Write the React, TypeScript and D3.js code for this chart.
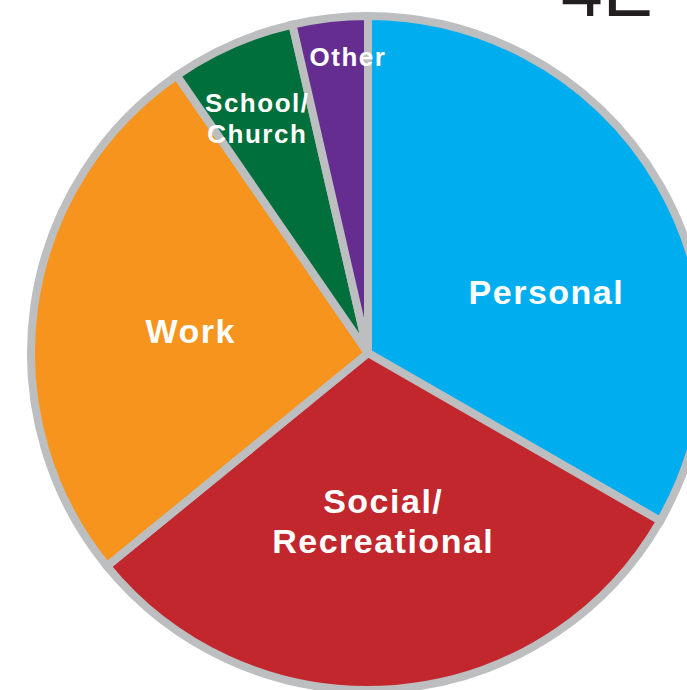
import React, { useEffect, useRef } from "react";
import * as d3 from "d3";

const categories = ["Personal", "Social/Recreational", "Work", "School/Church", "Other"];
const shares = [33.3, 30.8, 26.3, 6.0, 3.6];
const labelLines = [["Personal"], ["Social/", "Recreational"], ["Work"], ["School/", "Church"], ["Other"]];
const colors = ["#00aeef", "#c1272d", "#f7941d", "#006f3c", "#662d91"];

const width = 687;
const height = 690;

const App = () => {
  const ref = useRef<SVGSVGElement>(null);

  useEffect(() => {
    const svg = d3.select(ref.current);
    svg.selectAll("*").remove();

    const cx = 368;
    const cy = 353;
    const r = 337;

    const data = categories.map((c, i) => ({ name: c, value: shares[i], lines: labelLines[i], color: colors[i] }));
    const pie = d3.pie<any>().sort(null).value((d) => d.value);
    const arcs = pie(data);
    const arc = d3.arc<any>().innerRadius(0).outerRadius(r);

    const g = svg.append("g").attr("transform", `translate(${cx},${cy})`);

    g.selectAll("path")
      .data(arcs)
      .join("path")
      .attr("d", arc)
      .attr("fill", (d) => d.data.color)
      .attr("stroke", "#bcbec0")
      .attr("stroke-width", 8)
      .attr("stroke-linejoin", "miter");

    // label placement: radius fraction and angle nudge (degrees) from slice middle
    const labelR = [0.56, 0.5, 0.53, 0.77, 0.88];
    const labelShift = [11, -0.5, -1, -1.5, 2.6];
    const fs = [34, 34, 34, 26, 26];
    g.selectAll("text.lbl")
      .data(arcs)
      .join("text")
      .attr("class", "lbl")
      .attr("transform", (d, i) => {
        const a = (d.startAngle + d.endAngle) / 2 + (labelShift[i] * Math.PI) / 180;
        return `translate(${Math.sin(a) * r * labelR[i]},${-Math.cos(a) * r * labelR[i]})`;
      })
      .attr("text-anchor", "middle")
      .attr("fill", "#fff")
      .attr("font-family", "'Liberation Sans', Arial, sans-serif")
      .attr("font-weight", "bold")
      .attr("font-size", (d, i) => fs[i])
      .attr("letter-spacing", 1.5)
      .each(function (d: any, i) {
        const lines: string[] = d.data.lines;
        const lh = fs[i] * 1.17;
        d3.select(this)
          .selectAll("tspan")
          .data(lines)
          .join("tspan")
          .attr("x", 0)
          .attr("y", (_, j) => (j - (lines.length - 1) / 2) * lh + fs[i] * 0.36)
          .text((t) => t);
      });

    svg
      .append("text")
      .attr("x", 561)
      .attr("y", 16)
      .attr("fill", "#231f20")
      .attr("font-family", "'Liberation Sans', Arial, sans-serif")
      .attr("font-size", 75)
      .text("4E");
  }, []);

  return (
    <svg
      ref={ref}
      width={width}
      height={height}
      style={{ position: "absolute", left: 0, top: 0, background: "#fff" }}
    ></svg>
  );
};

export default App;
